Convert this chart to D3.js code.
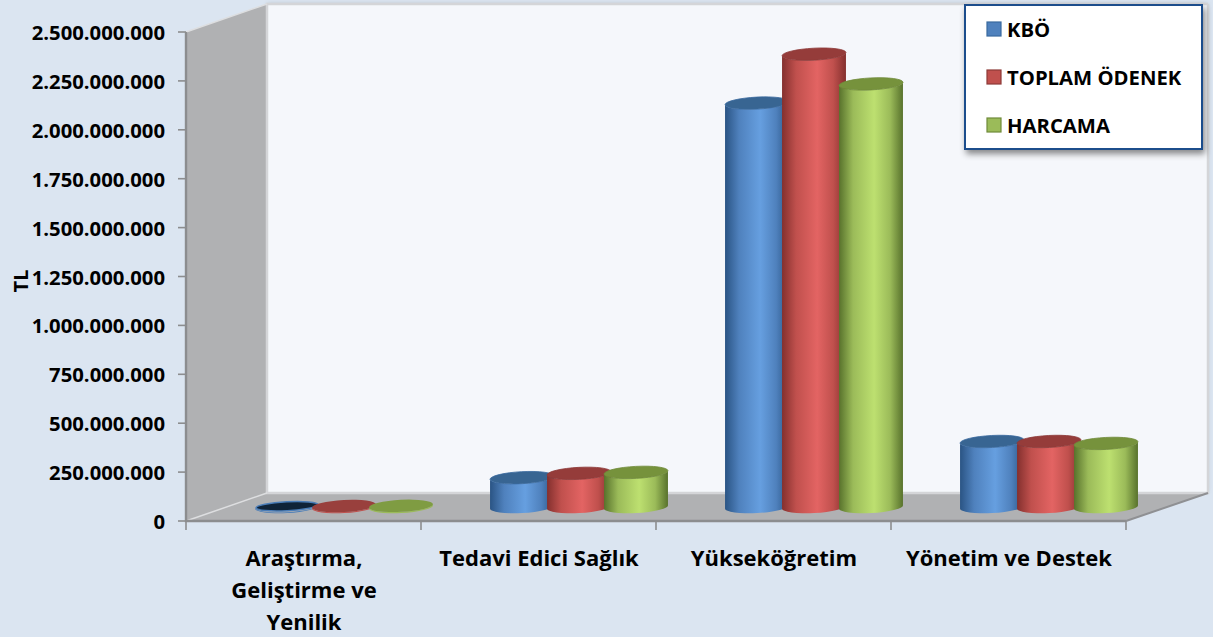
<!DOCTYPE html>
<html><head><meta charset="utf-8">
<script src="https://cdn.jsdelivr.net/npm/d3@7"></script>
<style>html,body{margin:0;padding:0;background:#dbe5f1}svg{display:block}text{font-family:"Open Sans",Lato,sans-serif;font-weight:700;fill:#000}</style>
</head><body><svg id="c" width="1213" height="637"></svg>
<script>
const categories=[["Araştırma,","Geliştirme ve","Yenilik"],["Tedavi Edici Sağlık"],["Yükseköğretim"],["Yönetim ve Destek"]];
const seriesNames=["KBÖ","TOPLAM ÖDENEK","HARCAMA"];
const kbo=[4000000,150000000,2065000000,335000000];
const toplam=[5000000,172000000,2315000000,335000000];
const harcama=[6000000,177000000,2163000000,325000000];
const ticks=[0,250000000,500000000,750000000,1000000000,1250000000,1500000000,1750000000,2000000000,2250000000,2500000000];
const values=[kbo,toplam,harcama];
const pal=[
 {d:"#2a5484",m:"#4f81bd",l:"#669fe0",top:"#386592",disc:"#0f2338",ring:"#4a7db8",line:"#3a6a9e"},
 {d:"#84302e",m:"#c0504d",l:"#e36463",top:"#953c3a",disc:"#99403d",ring:"#c0504d",line:"#8d3a38"},
 {d:"#58722c",m:"#9bbb59",l:"#bde070",top:"#76923c",disc:"#7f9c42",ring:"#9bbb59",line:"#6f8a3a"}];

const W=1213,H=637,fx0=186,fx1=1126,fy0=521,fy1=32,dx=81,dy=-28;
const svg=d3.select("#c");
const y=d3.scaleLinear().domain([0,2500000000]).range([fy0,fy1]);
const x=d3.scaleBand().domain(d3.range(categories.length)).range([fx0,fx1]);
const barW=64,step=57,barOff=69;
const s=d3.scaleLinear().domain([0,1]).range([barOff,barOff+step]);
const baseLift=14,rx=barW/2,ry=6,tilt=-3;

const defs=svg.append("defs");
pal.forEach((p,i)=>{
 const g=defs.append("linearGradient").attr("id","g"+i);
 [[0,p.d],[.22,p.m],[.55,p.l],[.8,p.m],[1,p.d]].forEach(a=>g.append("stop").attr("offset",a[0]).attr("stop-color",a[1]));
});
const f=defs.append("filter").attr("id","sh").attr("x","-10%").attr("y","-10%").attr("width","125%").attr("height","130%");
f.append("feDropShadow").attr("dx",2).attr("dy",4).attr("stdDeviation",3).attr("flood-color","#000").attr("flood-opacity",.45);
const f2=defs.append("filter").attr("id","sh2").attr("x","-2%").attr("y","-5%").attr("width","104%").attr("height","110%");
f2.append("feDropShadow").attr("dx",0).attr("dy",-1).attr("stdDeviation",2).attr("flood-color","#000").attr("flood-opacity",.12);

// walls and floor
const wx0=fx0+dx,wx1=fx1+dx+1,wt=fy1+dy,wb=fy0+dy;
svg.append("rect").attr("x",wx0).attr("y",wt).attr("width",wx1-wx0).attr("height",wb-wt).attr("fill","#f5f7fb").attr("filter","url(#sh2)");
svg.append("path").attr("d",`M${fx0},${fy1}L${wx0},${wt}L${wx0},${wb}L${fx0},${fy0}Z`).attr("fill","#b0b1b3");
svg.append("path").attr("d",`M${fx0},${fy0}L${wx0},${wb}L${wx1},${wb}L${fx1},${fy0}Z`).attr("fill","#b0b1b3");
// wall edges
const edge="#d4d5d8";
svg.append("path").attr("d",`M${wx1},${wt}V${wb}H${wx0}V${wt}H${wx1}`).attr("fill","none").attr("stroke",edge).attr("stroke-width",2.5);
svg.append("path").attr("d",`M${fx0},${fy1}L${wx0},${wt}M${fx0},${fy0}L${wx0},${wb}`).attr("fill","none").attr("stroke","#dddee0").attr("stroke-width",1.5);
svg.append("path").attr("d",`M${fx1},${fy0}L${wx1},${wb}`).attr("fill","none").attr("stroke","#8f9093").attr("stroke-width",2);

// axes lines
const axisCol="#8c8d8f";
svg.append("path").attr("d",`M${fx0},${fy1}V${fy0}H${fx1}`).attr("fill","none").attr("stroke",axisCol).attr("stroke-width",2.4);
svg.selectAll(".yt").data(ticks).join("line").attr("x1",fx0-8).attr("x2",fx0).attr("y1",d=>y(d)).attr("y2",d=>y(d)).attr("stroke",axisCol).attr("stroke-width",1.6);
svg.selectAll(".xt").data(d3.range(categories.length+1)).join("line")
 .attr("x1",d=>d<categories.length?x(d):fx1).attr("x2",d=>d<categories.length?x(d):fx1).attr("y1",fy0).attr("y2",fy0+9).attr("stroke",axisCol).attr("stroke-width",1.6);

// tick labels
const fmt=d=>d3.format(",")(d).replace(/,/g,".");
svg.selectAll(".yl").data(ticks).join("text").attr("x",165).attr("y",d=>y(d)+8).attr("text-anchor","end").attr("font-size",20.3).text(fmt);
svg.append("text").attr("transform","translate(28,281) rotate(-90)").attr("text-anchor","middle").attr("font-size",20).text("TL");

// category labels
const labelCx=[304,539,774,1009];
categories.forEach((lines,i)=>lines.forEach((t,j)=>{
 svg.append("text").attr("x",labelCx[i]).attr("y",566+j*32).attr("text-anchor","middle").attr("font-size",22).text(t);
}));

// cylinders
const rad=tilt*Math.PI/180, ex=rx*Math.cos(rad), ey=rx*Math.sin(rad);
categories.forEach((c,ci)=>{
 values.forEach((vals,si)=>{
  const p=pal[si], cx=x(ci)+s(si)+rx, base=fy0-baseLift, top=y(vals[ci])-baseLift;
  const g=svg.append("g");
  const small=base-top<8;
  g.append("path").attr("d",
   `M${cx-ex},${top-ey}L${cx-ex},${base-ey}A${rx},${ry} ${tilt} 0 0 ${cx+ex},${base+ey}L${cx+ex},${top+ey}A${rx},${ry} ${tilt} 0 1 ${cx-ex},${top-ey}Z`)
   .attr("fill",small?p.ring:`url(#g${si})`);
  g.append("ellipse").attr("cx",0).attr("cy",0).attr("rx",small&&si===0?rx-1:rx).attr("ry",small&&si===0?ry-1.5:ry)
   .attr("transform",`translate(${cx},${top}) rotate(${tilt})`).attr("fill",small?p.disc:p.top)
   .attr("stroke",small?(si===0?p.ring:"none"):p.line).attr("stroke-width",small?1.5:.8);
 });
});

// legend
const leg=svg.append("g");
leg.append("rect").attr("x",965).attr("y",5).attr("width",237).attr("height",144).attr("fill","#fff").attr("stroke","#1f4e8c").attr("stroke-width",2).attr("filter","url(#sh)");
const legY=d3.scalePoint().domain(seriesNames).range([29,125]);
seriesNames.forEach((n,i)=>{
 leg.append("rect").attr("x",987).attr("y",legY(n)-7).attr("width",14).attr("height",14).attr("fill",pal[i].m).attr("stroke",pal[i].line).attr("stroke-width",1.2);
 leg.append("text").attr("x",1007).attr("y",legY(n)+7.5).attr("font-size",20.3).text(n);
});
</script></body></html>
